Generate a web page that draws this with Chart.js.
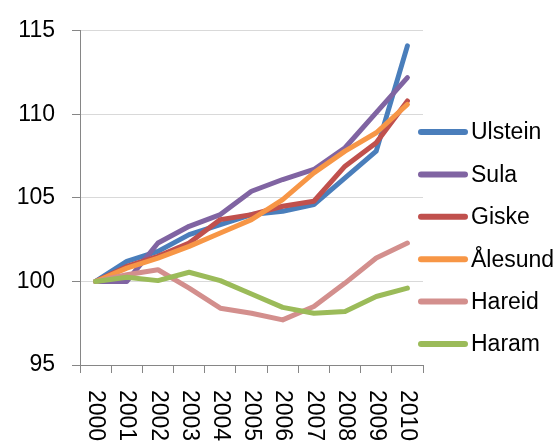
<!DOCTYPE html>
<html>
<head>
<meta charset="utf-8">
<script src="https://cdn.jsdelivr.net/npm/chart.js@4"></script>
<style>
  html, body { margin: 0; padding: 0; background: #fff; }
  #wrap { position: relative; width: 560px; height: 448px; }
</style>
</head>
<body>
<div id="wrap"><canvas id="chart"></canvas></div>
<script>
const years = ['2000', '2001', '2002', '2003', '2004', '2005', '2006', '2007', '2008', '2009', '2010'];
const seriesNames = ['Ulstein', 'Sula', 'Giske', 'Ålesund', 'Hareid', 'Haram'];
const ulstein = [100, 101.2, 101.8, 102.8, 103.4, 104.0, 104.2, 104.6, 106.2, 107.8, 114.1];
const sula    = [100, 100.0, 102.3, 103.3, 104.0, 105.4, 106.1, 106.7, 108.0, 110.1, 112.2];
const giske   = [100, 100.9, 101.5, 102.3, 103.7, 104.0, 104.5, 104.8, 106.9, 108.3, 110.8];
const alesund = [100, 100.8, 101.4, 102.1, 102.9, 103.7, 104.9, 106.5, 107.8, 108.9, 110.6];
const hareid  = [100, 100.4, 100.7, 99.6, 98.4, 98.1, 97.7, 98.5, 99.9, 101.4, 102.3];
const haram   = [100, 100.25, 100.05, 100.55, 100.05, 99.25, 98.45, 98.1, 98.2, 99.1, 99.6];
const yTicks = [95, 100, 105, 110, 115];

const colors = ['#4a7ebb', '#8064a2', '#c0504d', '#f79646', '#d38f8d', '#9bbb59'];
const allSeries = [ulstein, sula, giske, alesund, hareid, haram];
const FONT = '"Liberation Sans", Arial, sans-serif';

// x labels run top-to-bottom, which the category axis can't do itself
const yearLabels = {
    id: 'yearLabels',
    afterDraw(chart) {
        const ctx = chart.ctx;
        const x = chart.scales.x;
        ctx.save();
        ctx.font = '23px ' + FONT;
        ctx.fillStyle = '#000';
        ctx.textAlign = 'left';
        ctx.textBaseline = 'middle';
        years.forEach((lbl, i) => {
            ctx.save();
            ctx.translate(x.getPixelForTick(i), chart.chartArea.bottom + 25);
            ctx.rotate(Math.PI / 2);
            ctx.fillText(lbl, 0, 0);
            ctx.restore();
        });
        ctx.restore();
    }
};

const sideLegend = {
    id: 'sideLegend',
    afterDraw(chart) {
        const ctx = chart.ctx;
        const left = chart.chartArea.right - 5;
        ctx.save();
        ctx.font = '23px ' + FONT;
        ctx.textBaseline = 'middle';
        ctx.textAlign = 'left';
        chart.data.datasets.forEach((ds, i) => {
            const y = 132 + i * 42.4;
            ctx.strokeStyle = ds.borderColor;
            ctx.lineWidth = 6;
            ctx.lineCap = 'round';
            ctx.beginPath();
            ctx.moveTo(left + 3, y);
            ctx.lineTo(left + 47, y);
            ctx.stroke();
            ctx.fillStyle = '#000';
            ctx.fillText(ds.label, left + 53, y + 1);
        });
        ctx.restore();
    }
};

const datasets = seriesNames.map((name, i) => ({
    label: name,
    data: allSeries[i],
    borderColor: colors[i],
    backgroundColor: colors[i],
    borderWidth: 5,
    borderCapStyle: 'round',
    borderJoinStyle: 'round',
    pointRadius: 0,
    tension: 0,
    fill: false,
    order: seriesNames.length - i
}));

new Chart(document.getElementById('chart'), {
    type: 'line',
    data: { labels: years, datasets },
    plugins: [yearLabels, sideLegend],
    options: {
        responsive: true,
        maintainAspectRatio: false,
        animation: false,
        layout: { padding: { top: 28, right: 137, left: 0, bottom: 0 } },
        plugins: { legend: { display: false }, tooltip: { enabled: false } },
        scales: {
            x: {
                offset: true,
                grid: { offset: true, drawOnChartArea: false, drawTicks: true, tickLength: 8, color: '#868686' },
                border: { color: '#868686', width: 1 },
                ticks: { display: false },
                afterFit: s => { s.height = 83; }
            },
            y: {
                min: 95,
                max: 115,
                afterBuildTicks: s => { s.ticks = yTicks.map(v => ({ value: v })); },
                grid: { color: '#d9d9d9', tickColor: '#868686', tickLength: 8, lineWidth: 1 },
                border: { color: '#868686', width: 1 },
                ticks: { font: { size: 23, family: FONT }, color: '#000', padding: 17 },
                afterFit: s => { s.width = 80; }
            }
        }
    }
});
</script>
</body>
</html>
